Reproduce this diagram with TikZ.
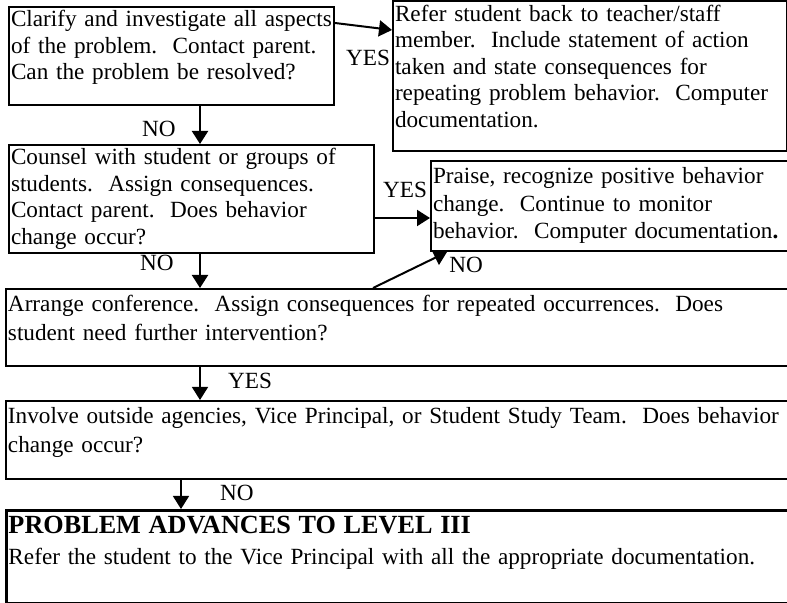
\documentclass[tikz,border=0pt]{standalone}
\usepackage{fontspec}
\setmainfont{Liberation Serif}
\usetikzlibrary{arrows.meta, calc, positioning}

\begin{document}
\begin{tikzpicture}[
    x=0.5pt, y=-0.5pt,
    >={Triangle[length=6.5pt, width=8pt]},
    box/.style={rectangle, draw, line width=1pt, anchor=north west, align=left, inner xsep=1pt, inner ysep=1pt, text height=9pt, font=\fontsize{11.6}{13.25}\selectfont},
    widebox/.style={box, text width=398pt, text height=10.5pt, font=\fontsize{11.6}{14.5}\selectfont},
    arrow/.style={->, line width=1pt},
    thinarrow/.style={->, line width=0.7pt},
    lbl/.style={font=\fontsize{11.6}{13}\selectfont, inner sep=0pt}
]
\useasboundingbox (0,0) rectangle (787,603);
\clip (0,0) rectangle (787,603);

% upper boxes
\node[box, text width=160.5pt, text depth=38pt] (clarify) at (8,6)
  {Clarify and investigate all aspects\\of the problem.\ \ Contact parent.\\Can the problem be resolved?};
\node[box, text width=195pt, text depth=63.75pt] (refer) at (392,0.5)
  {Refer student back to teacher/staff\\member.\ \ Include statement of action\\taken and state consequences for\\repeating problem behavior.\ \ Computer\\documentation.};
\node[box, text width=180.5pt, text depth=43pt] (counsel) at (8,144)
  {Counsel with student or groups of\\students.\ \ Assign consequences.\\Contact parent.\ \ Does behavior\\change occur?};
\node[box, text width=190pt, text height=10.5pt, text depth=32.5pt, font=\fontsize{11.6}{13.75}\selectfont] (praise) at (430,160)
  {Praise, recognize positive behavior\\change.\ \ Continue to monitor\\behavior.\ \ Computer documentation\textbf{.}};

% wide boxes
\node[widebox, text depth=26pt] (arrange) at (5,288)
  {Arrange conference.\ \ Assign consequences for repeated occurrences.\ \ Does\\student need further intervention?};
\node[widebox, text depth=26.5pt] (involve) at (5,400)
  {Involve outside agencies, Vice Principal, or Student Study Team.\ \ Does behavior\\change occur?};
\node[widebox, line width=1.5pt, text depth=34pt, font=\fontsize{11.6}{15.5}\selectfont] (problem) at (5,509)
  {{\fontsize{13.1}{15.5}\selectfont\bfseries PROBLEM ADVANCES TO LEVEL III}\\Refer the student to the Vice Principal with all the appropriate documentation.};

% connectors
\draw[arrow] ($(clarify.north east)+(0,17)$) -- ($(refer.north west)+(0,29.5)$);
\draw[arrow] ($(clarify.south west)+(192,0)$) coordinate (c1) -- (c1 |- counsel.north);
\draw[arrow] ($(counsel.north east)+(0,74)$) coordinate (c2) -- (c2 -| praise.west);
\draw[arrow] ($(counsel.south west)+(192,0)$) coordinate (c3) -- (c3 |- arrange.north);
\draw[arrow] ($(arrange.north west)+(368,0)$) -- ($(praise.south west)+(17,0)$);
\draw[thinarrow] ($(arrange.south west)+(195,0)$) coordinate (c4) -- (c4 |- involve.north);
\draw[thinarrow] ($(involve.south west)+(176,0)$) coordinate (c5) -- (c5 |- problem.north);

% labels
\node[lbl] (yes1) at (368,58) {YES};
\node[lbl] (yes2) at (405,190) {YES};
\node[lbl] (no1) at (159,129) {NO};
\node[lbl] (no2) at (157,263) {NO};
\node[lbl] (no3) at (466,265) {NO};
\node[lbl] (yes3) at (250,381) {YES};
\node[lbl] (no4) at (237,493) {NO};

\end{tikzpicture}
\end{document}
